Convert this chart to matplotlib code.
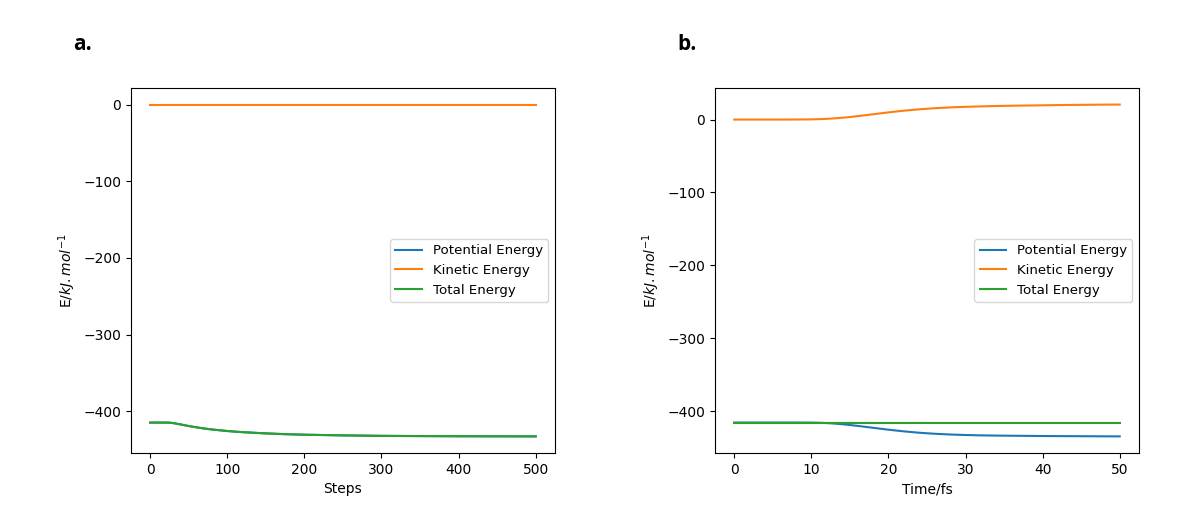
import matplotlib
matplotlib.use("Agg")
import matplotlib.pyplot as plt

# panel a: energies vs optimisation steps
steps = [0, 10, 20, 25, 30, 40, 50, 60, 70, 80, 100, 120, 150, 175, 200, 250, 300, 350, 400, 450, 500]
pot_a = [-414.8, -414.8, -414.8, -414.9, -415.5, -417.3, -419.3, -421.0, -422.5, -423.8, -425.8, -427.3, -428.9, -429.9, -430.6, -431.5, -432.1, -432.4, -432.6, -432.7, -432.8]
kin_a = [0.0] * len(steps)
tot_a = pot_a

# panel b: energies vs time (fs)
time_fs = [0, 2, 4, 6, 8, 10, 11, 12, 13, 14, 15, 16, 17, 18, 19, 20, 22, 24, 26, 28, 30, 32, 34, 36, 38, 40, 42, 44, 46, 48, 50]
pot_b = [-415.5, -415.5, -415.5, -415.5, -415.5, -415.6, -415.8, -416.2, -416.9, -417.8, -418.9, -420.1, -421.4, -422.7, -424.0, -425.3, -427.6, -429.5, -430.9, -431.9, -432.6, -433.1, -433.4, -433.6, -433.8, -434.0, -434.1, -434.2, -434.3, -434.4, -434.5]
kin_b = [0.0, 0.0, 0.0, 0.0, 0.1, 0.3, 0.6, 1.0, 1.7, 2.5, 3.5, 4.7, 6.0, 7.3, 8.6, 9.9, 12.2, 14.1, 15.6, 16.7, 17.5, 18.1, 18.6, 19.0, 19.3, 19.6, 19.9, 20.1, 20.3, 20.5, 20.6]
tot_b = [-415.5] * len(time_fs)

ylabel = r"E/$kJ.mol^{-1}$"


def draw(ax, x, pot, kin, tot, xlabel):
    ax.plot(x, pot, color="#1f77b4", label="Potential Energy")
    ax.plot(x, kin, color="#ff7f0e", label="Kinetic Energy")
    ax.plot(x, tot, color="#2ca02c", label="Total Energy")
    ax.set_xlabel(xlabel)
    ax.set_ylabel(ylabel)
    ax.legend(loc="center right", fontsize=9.6)


fig = plt.figure(figsize=(11.83, 5.29), dpi=100)
ax1 = fig.add_axes([0.1107, 0.1437, 0.3584, 0.690])
ax2 = fig.add_axes([0.6044, 0.1437, 0.3584, 0.690])

draw(ax1, steps, pot_a, kin_a, tot_a, "Steps")
draw(ax2, time_fs, pot_b, kin_b, tot_b, "Time/fs")

fig.text(0.062, 0.905, "a.", fontsize=15, fontweight="bold", family="Open Sans")
fig.text(0.573, 0.905, "b.", fontsize=15, fontweight="bold", family="Open Sans")

fig.savefig("out.png", dpi=100)
